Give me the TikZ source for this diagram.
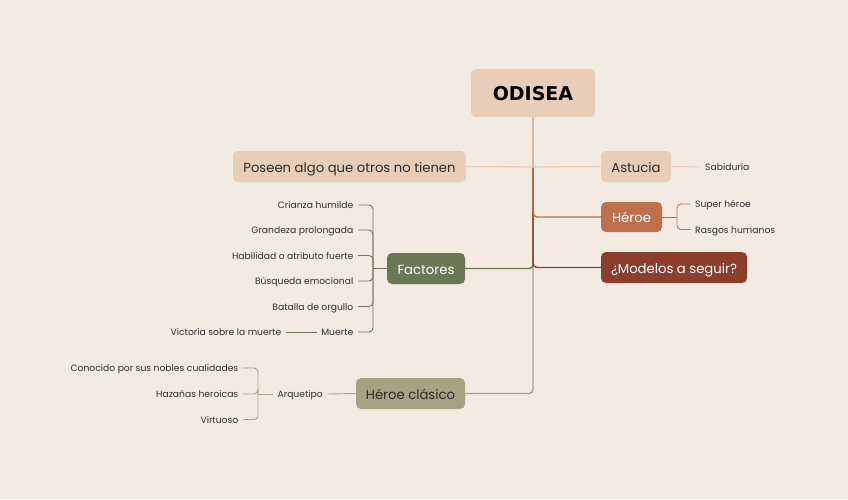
\documentclass[tikz,border=0pt]{standalone}
\usepackage{fontspec}
\setmainfont{Poppins}
\newfontfamily\titlefont{DejaVu Sans}
\definecolor{bg}{HTML}{F3EBE2}
\definecolor{light}{HTML}{E8CDB9}
\definecolor{trunkc}{HTML}{DDB7A2}
\definecolor{heroec}{HTML}{BD6F4E}
\definecolor{modelc}{HTML}{8C3E2D}
\definecolor{factc}{HTML}{6B7757}
\definecolor{clasc}{HTML}{A6A283}
\definecolor{txt}{HTML}{2B2B2B}
\definecolor{stxt}{HTML}{2F2F2F}
\tikzset{
  x=1pt,y=-1pt,
  box/.style={rounded corners=5pt, inner sep=0pt, text height=11.6pt, text depth=0.6pt, font=\fontsize{13.2}{15}\selectfont, text=txt},
  leaf/.style={inner xsep=4.5pt, inner ysep=2pt, text height=8.2pt, text depth=0.6pt, font=\fontsize{9.2}{11}\selectfont, text=stxt},
  main/.style={line width=1.4pt, rounded corners=4pt},
  sub/.style={line width=0.9pt, rounded corners=4pt},
}
\begin{document}
\begin{tikzpicture}
\fill[bg] (0,0) rectangle (848,499);
\useasboundingbox (0,0) rectangle (848,499);

% main nodes
\node[box, fill=light, minimum width=124pt, minimum height=48pt, text height=14pt, text depth=0pt, font=\titlefont\bfseries\fontsize{19}{21}\selectfont, text=black] (odisea) at (533,93) {ODISEA};
\node[box, fill=light, minimum width=233pt, minimum height=31pt] (poseen) at (349.5,166.5) {Poseen algo que otros no tienen};
\node[box, fill=light, minimum width=70pt, minimum height=31pt] (astucia) at (636,166.5) {Astucia};
\node[box, fill=heroec, minimum width=61pt, minimum height=30pt, text=white] (heroe) at (631.5,217) {Héroe};
\node[box, fill=modelc, minimum width=146pt, minimum height=31pt, text=white] (modelos) at (674,267.5) {¿Modelos a seguir?};
\node[box, fill=factc, minimum width=78pt, minimum height=31pt, text=white] (factores) at (426,268.5) {Factores};
\node[box, fill=clasc, minimum width=109pt, minimum height=31pt] (clasico) at (410.5,393.5) {Héroe clásico};

% hub
\coordinate (hub) at (533,167);
\coordinate (hb) at (677,217);
\coordinate (fb) at (373,268.5);
\coordinate (cb) at (258,394);

% trunk connectors
\draw[main, draw=clasc] (hub) |- (clasico.east);
\draw[main, draw=factc] (hub) |- (factores.east);
\draw[main, draw=modelc] (hub) |- (modelos.west);
\draw[main, draw=heroec] (hub) |- (heroe.west);
\draw[main, draw=trunkc] (odisea.south) -- (hub);
\draw[main, draw=light] (hub) -- (astucia.west);
\draw[main, draw=light] (hub) -- (poseen.east);

% right leaves
\node[leaf, anchor=west] (sabiduria) at (700.5,167) {Sabiduría};
\draw[sub, draw=light] (astucia.east) -- (sabiduria.west);
\node[leaf, anchor=west] (super) at (690.5,204) {Super héroe};
\node[leaf, anchor=west] (rasgos) at (690.5,229.5) {Rasgos humanos};
\draw[sub, draw=heroec] (heroe.east) -- (hb);
\draw[sub, draw=heroec] (hb) |- (super.west);
\draw[sub, draw=heroec] (hb) |- (rasgos.west);

% factores leaves
\node[leaf, anchor=east] (f1) at (358,205) {Crianza humilde};
\node[leaf, anchor=east] (f2) at (358,230) {Grandeza prolongada};
\node[leaf, anchor=east] (f3) at (358,255.5) {Habilidad o atributo fuerte};
\node[leaf, anchor=east] (f4) at (358,281) {Búsqueda emocional};
\node[leaf, anchor=east] (f5) at (358,306.5) {Batalla de orgullo};
\node[leaf, anchor=east] (f6) at (358,332) {Muerte};
\node[leaf, anchor=east] (victoria) at (286,332) {Victoria sobre la muerte};
\draw[sub, draw=factc] (factores.west) -- (fb);
\foreach \c in {f1,f2,f3,f4,f5,f6} \draw[sub, draw=factc] (fb) |- (\c.east);
\draw[sub, draw=factc] (f6.west) -- (victoria.east);

% clasico leaves
\node[leaf, anchor=east] (arquetipo) at (327.5,394) {Arquetipo};
\node[leaf, anchor=east] (c1) at (243,368) {Conocido por sus nobles cualidades};
\node[leaf, anchor=east] (c2) at (243,394) {Hazañas heroicas};
\node[leaf, anchor=east] (c3) at (243,419.5) {Virtuoso};
\draw[sub, draw=clasc] (clasico.west) -- (arquetipo.east);
\draw[sub, draw=clasc] (arquetipo.west) -- (cb);
\foreach \c in {c1,c2,c3} \draw[sub, draw=clasc] (cb) |- (\c.east);
\end{tikzpicture}
\end{document}
